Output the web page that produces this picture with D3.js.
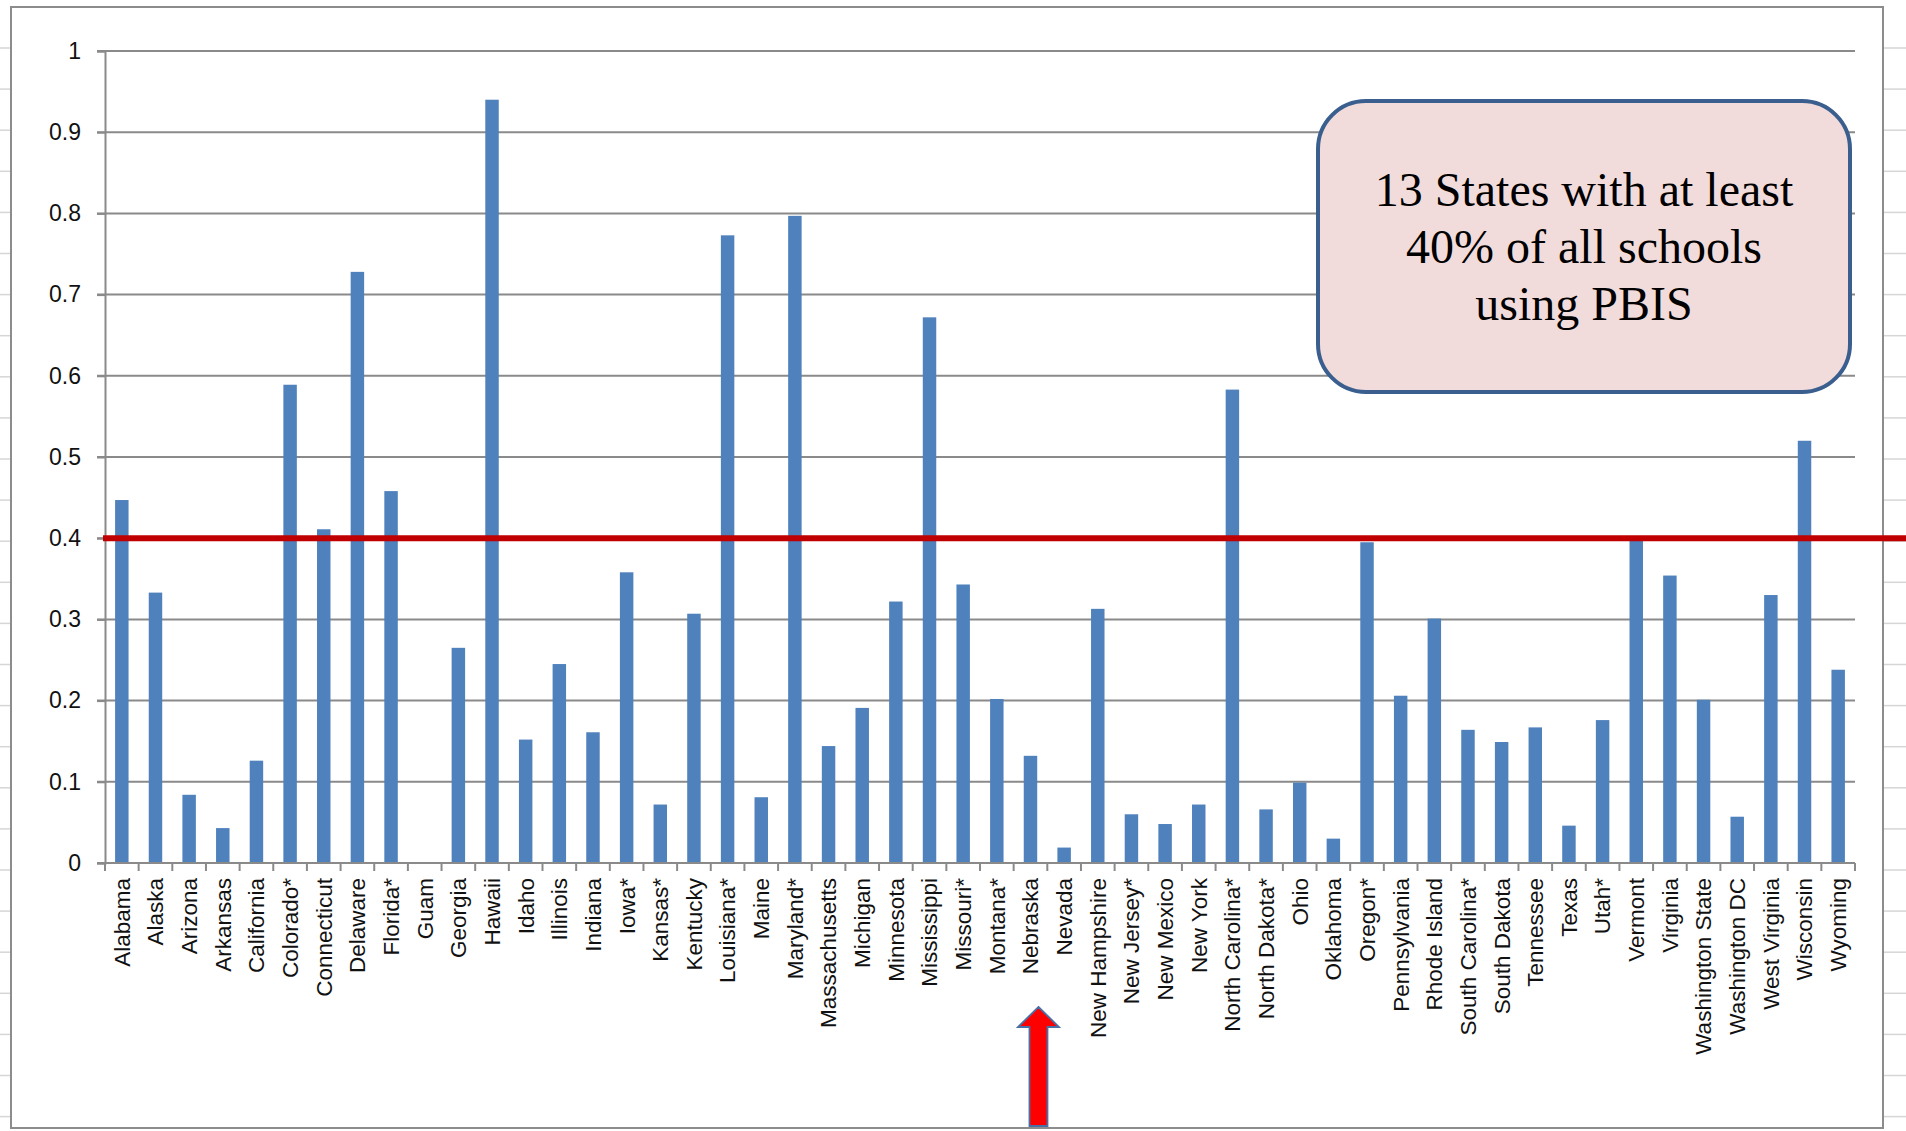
<!DOCTYPE html>
<html>
<head>
<meta charset="utf-8">
<script src="https://cdn.jsdelivr.net/npm/d3@7"></script>
<style>
  html, body { margin: 0; padding: 0; background: #fff; }
  svg { display: block; }
</style>
</head>
<body>
<svg id="chart" width="1906" height="1131"></svg>
<script>
// Share of schools using PBIS, by state (asterisk marks states flagged in the source table)
const states = [
  "Alabama", "Alaska", "Arizona", "Arkansas", "California", "Colorado*", "Connecticut",
  "Delaware", "Florida*", "Guam", "Georgia", "Hawaii", "Idaho", "Illinois", "Indiana",
  "Iowa*", "Kansas*", "Kentucky", "Louisiana*", "Maine", "Maryland*", "Massachusetts",
  "Michigan", "Minnesota", "Mississippi", "Missouri*", "Montana*", "Nebraska", "Nevada",
  "New Hampshire", "New Jersey*", "New Mexico", "New York", "North Carolina*",
  "North Dakota*", "Ohio", "Oklahoma", "Oregon*", "Pennsylvania", "Rhode Island",
  "South Carolina*", "South Dakota", "Tennessee", "Texas", "Utah*", "Vermont", "Virginia",
  "Washington State", "Washington DC", "West Virginia", "Wisconsin", "Wyoming"
];

const shareUsingPBIS = [
  0.447, 0.333, 0.084, 0.043, 0.126, 0.589, 0.411,
  0.728, 0.458, 0.000, 0.265, 0.940, 0.152, 0.245, 0.161,
  0.358, 0.072, 0.307, 0.773, 0.081, 0.797, 0.144,
  0.191, 0.322, 0.672, 0.343, 0.202, 0.132, 0.019,
  0.313, 0.060, 0.048, 0.072, 0.583,
  0.066, 0.099, 0.030, 0.395, 0.206, 0.301,
  0.164, 0.149, 0.167, 0.046, 0.176, 0.400, 0.354,
  0.201, 0.057, 0.330, 0.520, 0.238
];

const yTickValues = [0, 0.1, 0.2, 0.3, 0.4, 0.5, 0.6, 0.7, 0.8, 0.9, 1];
const yTickLabels = ["0", "0.1", "0.2", "0.3", "0.4", "0.5", "0.6", "0.7", "0.8", "0.9", "1"];

const threshold = 0.4;
const highlightedState = "Nebraska";
const calloutLines = ["13 States with at least", "40% of all schools", "using PBIS"];

const data = states.map((s, i) => ({ state: s, value: shareUsingPBIS[i] }));

const W = 1906, H = 1131;
const plot = { left: 105, right: 1855, top: 51, bottom: 863 };

const svg = d3.select("#chart");

// spreadsheet cell lines peeking out around the chart object
const rowLines = d3.range(48, H, 41.1);
svg.append("g").attr("stroke", "#d6d6d6").attr("stroke-width", 1.5)
  .selectAll("line.row").data(rowLines).join("line")
  .attr("x1", 0).attr("x2", 11).attr("y1", d => d).attr("y2", d => d);
svg.append("g").attr("stroke", "#d6d6d6").attr("stroke-width", 1.5)
  .selectAll("line.row").data(rowLines).join("line")
  .attr("x1", 1884).attr("x2", W).attr("y1", d => d).attr("y2", d => d);

// chart frame
svg.append("rect")
  .attr("x", 11).attr("y", 7).attr("width", 1872).attr("height", 1121)
  .attr("fill", "#fff").attr("stroke", "#8c8c8c").attr("stroke-width", 2);

const x = d3.scaleBand()
  .domain(states)
  .range([plot.left, plot.right])
  .paddingInner(0.6)
  .paddingOuter(0.3);

const y = d3.scaleLinear().domain([0, 1]).range([plot.bottom, plot.top]);

// horizontal gridlines (extend left to form the tick marks)
svg.append("g")
  .selectAll("line").data(yTickValues).join("line")
  .attr("x1", plot.left - 8).attr("x2", plot.right)
  .attr("y1", d => y(d)).attr("y2", d => y(d))
  .attr("stroke", "#8a8a8a").attr("stroke-width", 2);

// y axis with labels
const yAxis = d3.axisLeft(y)
  .tickValues(yTickValues)
  .tickFormat((d, i) => yTickLabels[i])
  .tickSize(8)
  .tickPadding(16);
const gy = svg.append("g").attr("transform", `translate(${plot.left},0)`).call(yAxis);
gy.select(".domain").attr("stroke", "#8a8a8a").attr("stroke-width", 2);
gy.selectAll(".tick line").attr("stroke", "#8a8a8a").attr("stroke-width", 2);
gy.selectAll(".tick text")
  .attr("font-family", "'Liberation Sans', Arial, sans-serif")
  .attr("font-size", 23)
  .attr("fill", "#111");

// bars
svg.append("g")
  .selectAll("rect").data(data).join("rect")
  .attr("x", d => x(d.state))
  .attr("width", x.bandwidth())
  .attr("y", d => y(d.value))
  .attr("height", d => y(0) - y(d.value))
  .attr("fill", "#4F81BD");

// x axis: baseline, category boundary ticks, rotated labels
const step = x.step();
const boundaries = [plot.left].concat(states.map(s => x(s) + x.bandwidth() / 2 + step / 2));
const gx = svg.append("g");
gx.append("line")
  .attr("x1", plot.left - 8).attr("x2", plot.right)
  .attr("y1", y(0)).attr("y2", y(0))
  .attr("stroke", "#8a8a8a").attr("stroke-width", 2);
gx.selectAll("line.tick").data(boundaries).join("line")
  .attr("class", "tick")
  .attr("x1", d => d).attr("x2", d => d)
  .attr("y1", y(0)).attr("y2", y(0) + 8)
  .attr("stroke", "#8a8a8a").attr("stroke-width", 2);
gx.selectAll("text").data(states).join("text")
  .attr("transform", d => `translate(${x(d) + x.bandwidth() / 2},${y(0) + 15}) rotate(-90)`)
  .attr("dy", "0.35em")
  .attr("text-anchor", "end")
  .attr("font-family", "'Liberation Sans', Arial, sans-serif")
  .attr("font-size", 22.5)
  .attr("fill", "#111")
  .text(d => d);

// 40% threshold line
svg.append("line")
  .attr("x1", plot.left - 2).attr("x2", W)
  .attr("y1", y(threshold)).attr("y2", y(threshold))
  .attr("stroke", "#C00000").attr("stroke-width", 6);

// upward arrow pointing at the highlighted state
const ax = x(highlightedState) + x.bandwidth() / 2 + 8;
const tipY = 1007, headY = 1027, baseY = 1126, headHalf = 20.5, shaftHalf = 9;
svg.append("path")
  .attr("d", `M${ax},${tipY} L${ax + headHalf},${headY} L${ax + shaftHalf},${headY} L${ax + shaftHalf},${baseY}
              L${ax - shaftHalf},${baseY} L${ax - shaftHalf},${headY} L${ax - headHalf},${headY} Z`)
  .attr("fill", "#FF0000")
  .attr("stroke", "#4A6FA5")
  .attr("stroke-width", 1.8)
  .attr("stroke-linejoin", "miter");

// callout box
const box = { x: 1318, y: 101, w: 532, h: 291 };
svg.append("rect")
  .attr("x", box.x).attr("y", box.y).attr("width", box.w).attr("height", box.h)
  .attr("rx", 48).attr("ry", 48)
  .attr("fill", "#F2DCDB")
  .attr("stroke", "#3A5F8E")
  .attr("stroke-width", 4);
svg.append("g")
  .selectAll("text").data(calloutLines).join("text")
  .attr("x", box.x + box.w / 2)
  .attr("y", (d, i) => 206 + i * 57)
  .attr("text-anchor", "middle")
  .attr("font-family", "'Liberation Serif', 'Times New Roman', serif")
  .attr("font-size", 48)
  .attr("fill", "#000")
  .text(d => d);
</script>
</body>
</html>
